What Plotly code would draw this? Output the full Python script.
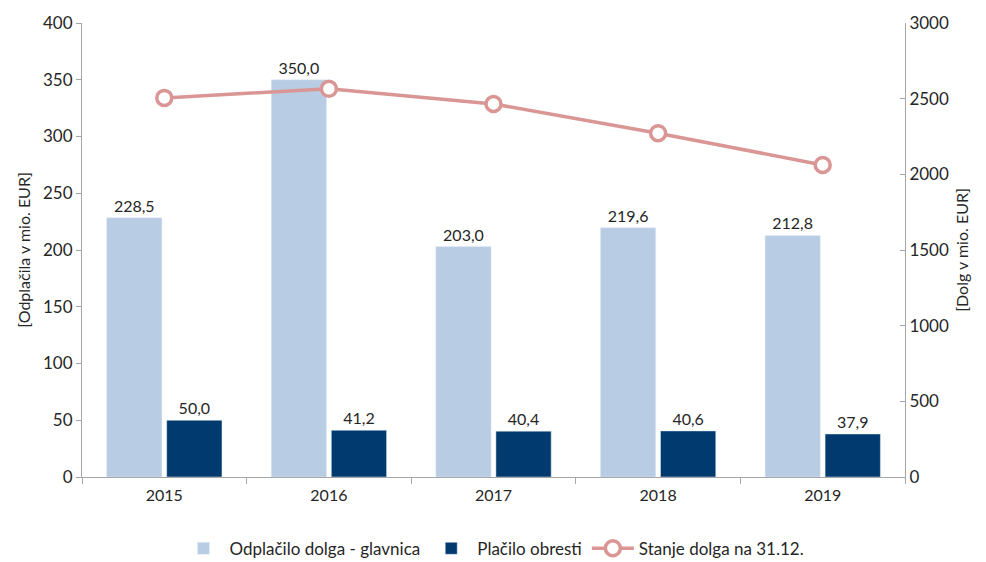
import plotly.graph_objects as go

years = ["2015", "2016", "2017", "2018", "2019"]
glavnica = [228.5, 350.0, 203.0, 219.6, 212.8]
obresti = [50.0, 41.2, 40.4, 40.6, 37.9]
stanje = [2505, 2565, 2465, 2272, 2062]

font_family = "Lato, Open Sans, Liberation Sans, sans-serif"
txt_color = "#262626"
axis_color = "#A6A6A6"
label_tpl = "%{y:.1f}"

fig = go.Figure()
fig.add_trace(go.Bar(
    x=years, y=glavnica, name="Odplačilo dolga - glavnica",
    marker=dict(color="#B8CCE4"),
    texttemplate=label_tpl, textposition="outside",
    textfont=dict(size=16, color=txt_color, family=font_family),
    cliponaxis=False,
))
fig.add_trace(go.Bar(
    x=years, y=obresti, name="Plačilo obresti",
    marker=dict(color="#003A6E"),
    texttemplate=label_tpl, textposition="outside",
    textfont=dict(size=16, color=txt_color, family=font_family),
    cliponaxis=False,
))
fig.add_trace(go.Scatter(
    x=years, y=stanje, name="Stanje dolga na 31.12.", yaxis="y2",
    mode="lines+markers",
    line=dict(color="#D99694", width=3.5),
    marker=dict(size=15, color="white", line=dict(color="#D99694", width=3.5)),
    cliponaxis=False,
))

# page body has an 8px margin, so the figure is sized to fit inside the window
fig.update_layout(
    width=978, height=554,
    margin=dict(l=74, r=81, t=15, b=85, autoexpand=False),
    paper_bgcolor="white", plot_bgcolor="white",
    font=dict(family=font_family, size=16, color=txt_color),
    separators=", ",
    barmode="group", bargap=0.27, bargroupgap=0.08,
    showlegend=True,
    legend=dict(orientation="h", x=0.5, xanchor="center", y=-0.158, yanchor="middle",
                font=dict(size=17, color=txt_color), itemwidth=42, traceorder="normal"),
    xaxis=dict(
        type="category", showline=True, linecolor=axis_color, linewidth=1,
        ticks="outside", tickson="boundaries", ticklen=6, tickcolor=axis_color,
        showgrid=False, tickfont=dict(size=16, color=txt_color), automargin=False,
        ticklabelstandoff=4,
    ),
    yaxis=dict(
        range=[0, 400], dtick=50, showline=True, linecolor=axis_color, linewidth=1,
        ticks="outside", ticklen=5, tickcolor=axis_color, showgrid=False, zeroline=False,
        tickfont=dict(size=17, color=txt_color), automargin=False,
        title=dict(text="[Odplačila v mio. EUR]", font=dict(size=16, color=txt_color), standoff=8),
    ),
    yaxis2=dict(
        range=[0, 3000], dtick=500, overlaying="y", side="right",
        showline=True, linecolor=axis_color, linewidth=1,
        ticks="inside", ticklen=5, tickcolor=axis_color, showgrid=False, zeroline=False,
        tickfont=dict(size=17, color=txt_color), automargin=False,
        title=dict(text="[Dolg v mio. EUR]", font=dict(size=16, color=txt_color), standoff=8),
    ),
)

fig.write_html("out.html")
